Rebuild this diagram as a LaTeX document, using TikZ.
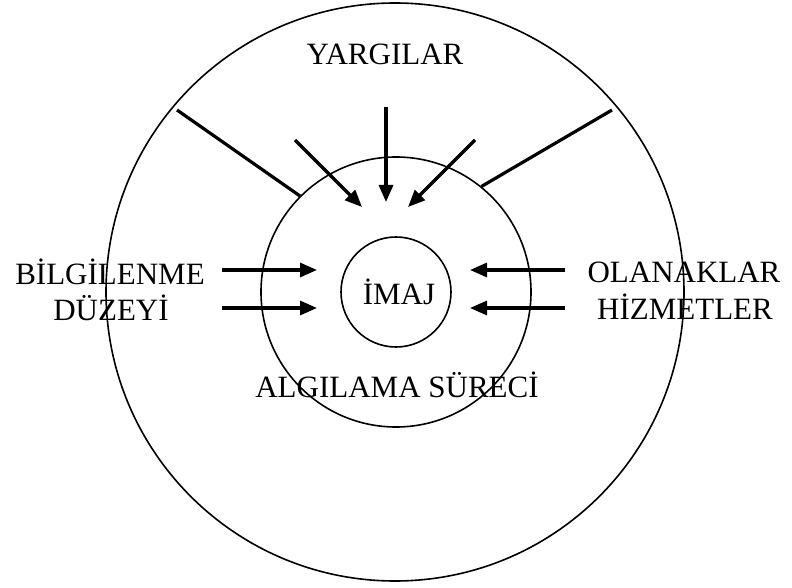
\documentclass[tikz,border=0pt]{standalone}
\usepackage{fontspec}
\setmainfont{Liberation Serif}
\usetikzlibrary{arrows.meta}

\begin{document}
\begin{tikzpicture}[
  x=0.5pt,y=-0.5pt,
  font=\fontsize{15.5}{19}\selectfont,
  ring/.style={draw,circle,line width=0.8pt,inner sep=0pt},
  lbl/.style={anchor=base,inner sep=0pt},
  ar/.style={-{Triangle[length=8.5pt,width=7pt]},line width=1.6pt},
  ln/.style={line width=1.6pt}
]
\useasboundingbox (0,0) rectangle (792,588);
\coordinate (c) at (395,292);
\node[ring,minimum size=289pt] (dis) at (c) {};
\node[ring,minimum size=135pt] (alg) at ([xshift=0.5]c) {};
\node[ring,minimum size=55pt] (icc) at ([xshift=0.5]c) {};

\node[lbl] (yarg) at (385,65) {YARGILAR};
\node[lbl] (bil) at (110,285) {BİLGİLENME};
\node[lbl] (duz) at (111,321) {DÜZEYİ};
\node[lbl] (ola) at (684,283) {OLANAKLAR};
\node[lbl] (hiz) at (685,320) {HİZMETLER};
\node[lbl] (imaj) at (399,305) {İMAJ};
\node[lbl] (sur) at (397,397) {ALGILAMA SÜRECİ};

\coordinate (l1) at (222,270);
\coordinate (l2) at (222,308);
\coordinate (l1e) at (317,270);
\coordinate (l2e) at (317,308);
\coordinate (r1) at (565,270);
\coordinate (r2) at (565,308);
\coordinate (r1e) at (470,270);
\coordinate (r2e) at (470,308);
\coordinate (tm) at (386,107);
\coordinate (tme) at (386,202);
\coordinate (tl) at (295,140);
\coordinate (tle) at (362,207);
\coordinate (tr) at (475,140);
\coordinate (tre) at (408,207);
\coordinate (ll) at (177,110);
\coordinate (lr) at (612,110);

\draw[ar] (l1) -- (l1e);
\draw[ar] (l2) -- (l2e);
\draw[ar] (r1) -- (r1e);
\draw[ar] (r2) -- (r2e);
\draw[ar] (tm) -- (tme);
\draw[ar] (tl) -- (tle);
\draw[ar] (tr) -- (tre);
\draw[ln] (ll) -- (alg.135);
\draw[ln] (lr) -- (alg.51);
\end{tikzpicture}
\end{document}
